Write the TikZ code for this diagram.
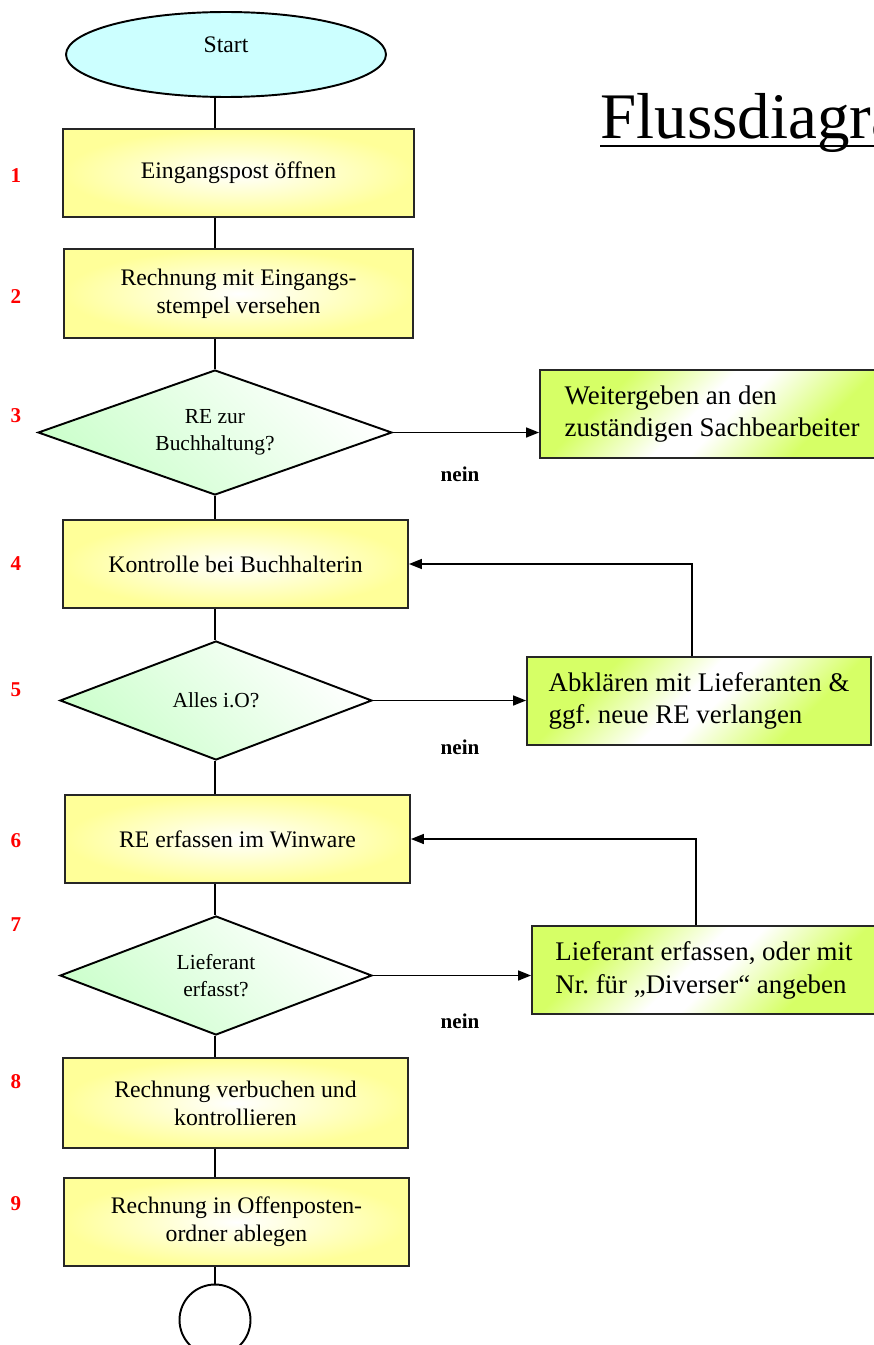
\documentclass[tikz,border=0pt]{standalone}
\usepackage{fontspec}
\setmainfont{Liberation Serif}
\usetikzlibrary{shapes.geometric,arrows.meta}
\definecolor{boxyellow}{RGB}{255,255,153}
\definecolor{diagreen}{RGB}{204,255,204}
\definecolor{sidelime}{RGB}{214,255,102}
\definecolor{startcyan}{RGB}{204,255,255}
\pgfdeclareverticalshading{limeband}{100bp}{color(0bp)=(sidelime); color(30bp)=(sidelime);
  color(47bp)=(white); color(53bp)=(white); color(70bp)=(sidelime); color(100bp)=(sidelime)}
\frenchspacing

\begin{document}
\begin{tikzpicture}[x=0.02cm,y=-0.02cm,
  stepbox/.style={draw=black!85,line width=1.1pt,inner color=white,outer color=boxyellow,
    minimum width=6.9cm,minimum height=1.76cm,align=center,font=\fontsize{13.5}{15.9}\selectfont},
  query/.style={diamond,draw=black,line width=1.1pt,top color=white,bottom color=diagreen,
    shading angle=-45,inner sep=0pt,align=center,font=\fontsize{12.2}{15.3}\selectfont},
  sidebox/.style={draw=black!85,line width=1.1pt,shade,shading=limeband,shading angle=45,
    minimum width=6.88cm,minimum height=1.76cm,align=left,font=\fontsize{15.3}{18.7}\selectfont},
  flow/.style={line width=0.9pt},
  flowarrow/.style={line width=0.9pt,-{Triangle[length=0.26cm,width=0.2cm]}},
  num/.style={red,font=\fontsize{12}{14}\bfseries\selectfont},
  nolabel/.style={font=\fontsize{12}{14}\bfseries\selectfont}]
  \useasboundingbox (0,0) rectangle (874,1345);
  \clip (0,0) rectangle (874,1345);

  % title
  \node[anchor=base west,inner sep=0pt,font=\fontsize{37}{40}\selectfont] (title) at (600,138) {Flussdiagramm};
  \draw[line width=1.7pt] ([yshift=-0.16cm]title.base west) -- ([yshift=-0.16cm]title.base east);

  % main column
  \node[ellipse,draw,line width=1.1pt,fill=startcyan,minimum width=6.4cm,minimum height=1.7cm,
    text depth=0.4cm,font=\fontsize{13.5}{15.9}\selectfont] (start) at (226,54.5) {Start};
  \node[stepbox,minimum width=7.02cm] (b1) at (238.5,173) {Eingangspost öffnen};
  \node[stepbox,minimum width=6.98cm,minimum height=1.78cm] (b2) at (238.5,293.5) {Rechnung mit Eingangs-\\stempel versehen};
  \node[query,aspect=2.83,minimum width=7.08cm,minimum height=2.5cm] (d3) at (215,432.5) {RE zur\\Buchhaltung?};
  \node[stepbox] (b4) at (235.5,564) {Kontrolle bei Buchhalterin};
  \node[query,aspect=2.62,minimum width=6.24cm,minimum height=2.38cm] (d5) at (216,700.5) {Alles i.O?};
  \node[stepbox] (b6) at (237.5,839) {RE erfassen im Winware};
  \node[query,aspect=2.62,minimum width=6.24cm,minimum height=2.38cm] (d7) at (216,975.5) {Lieferant\\erfasst?};
  \node[stepbox,minimum height=1.8cm] (b8) at (235.5,1103) {Rechnung verbuchen und\\kontrollieren};
  \node[stepbox] (b9) at (236.5,1222) {Rechnung in Offenposten-\\ordner ablegen};
  \node[circle,draw,line width=1.1pt,minimum size=1.42cm] (stop) at (215,1320) {};

  % side boxes
  \node[sidebox] (r3) at (712,414) {Weitergeben an den\\zuständigen Sachbearbeiter};
  \node[sidebox] (r5) at (699,701) {Abklären mit Lieferanten \&\\ggf. neue RE verlangen};
  \node[sidebox] (r7) at (704,970) {Lieferant erfassen, oder mit\\Nr. für „Diverser“ angeben};

  % step numbers and labels
  \foreach \n/\y in {1/176,2/297,3/416,4/564,5/690,6/841,7/925,8/1082,9/1204}
    \node[num] (n\n) at (16,\y) {\n};
  \foreach \y [count=\i] in {474,747,1021}
    \node[nolabel] (nein\i) at (460,\y) {nein};

  % connectors
  \foreach \a/\b in {start/b1,b1/b2,b2/d3,d3/b4,b4/d5,d5/b6,b6/d7,d7/b8,b8/b9,b9/stop}
    \draw[flow] (\a.south -| d3) -- (\b.north -| d3);
  \draw[flowarrow] (d3.east) -- (d3.east -| r3.west);
  \draw[flowarrow] (d5.east) -- (d5.east -| r5.west);
  \draw[flowarrow] (d7.east) -- (d7.east -| r7.west);
  \draw[flowarrow] (r5.north) ++(-7,0) |- (b4.east);
  \draw[flowarrow] (r7.north) ++(-8,0) |- (b6.east);
\end{tikzpicture}
\end{document}
